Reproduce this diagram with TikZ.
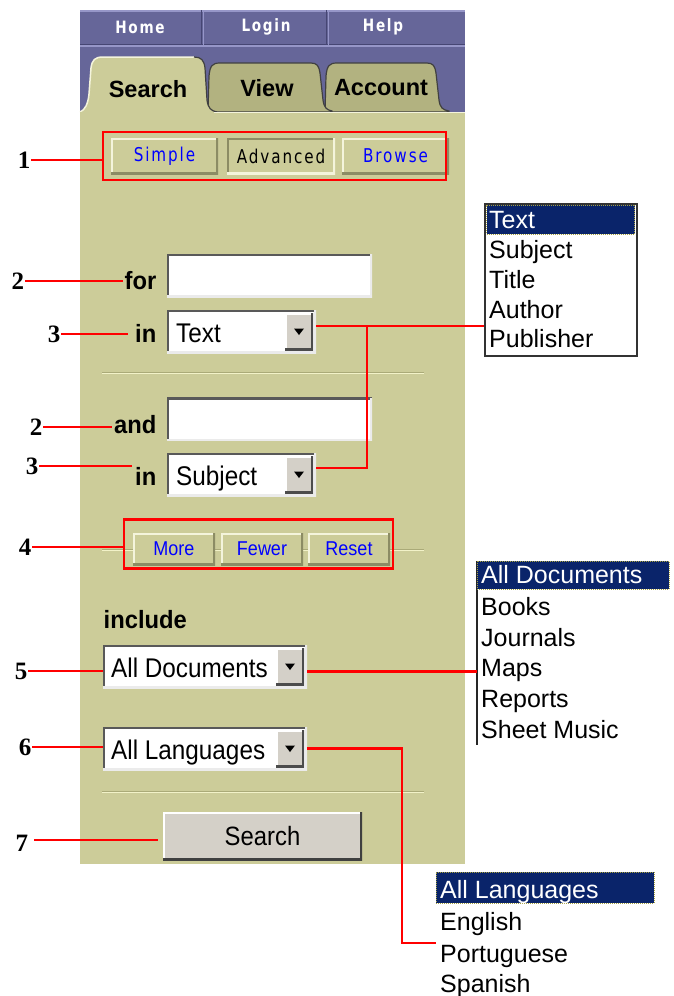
\documentclass[tikz,border=0pt]{standalone}
\usepackage{fontspec}
\setmainfont{Liberation Sans}
\newfontfamily\ddfont[FakeStretch=0.9]{Liberation Sans}
\newfontfamily\lblfont[FakeStretch=0.95]{Liberation Sans}
\newfontfamily\numfont{Liberation Serif}
\newfontfamily\pixfont[FakeStretch=0.8,LetterSpace=10]{DejaVu Sans}
\definecolor{navpurple}{RGB}{102,102,153}
\definecolor{navlight}{RGB}{150,150,200}
\definecolor{navdark}{RGB}{70,70,115}
\definecolor{khaki}{RGB}{204,204,153}
\definecolor{khlight}{RGB}{244,244,220}
\definecolor{khdark}{RGB}{140,140,100}
\definecolor{tabdark}{RGB}{178,178,128}
\definecolor{navy}{RGB}{10,36,106}
\definecolor{btngray}{RGB}{212,208,200}
\definecolor{linkblue}{RGB}{0,0,255}
\definecolor{seplight}{RGB}{242,242,200}
\definecolor{sepdark}{RGB}{170,170,120}
\tikzset{
  bevel/.style 2 args={path picture={
    \draw[#1,line width=4] (path picture bounding box.south west) -- (path picture bounding box.north west) -- (path picture bounding box.north east);
    \draw[#2,line width=4] (path picture bounding box.north east) -- (path picture bounding box.south east) -- (path picture bounding box.south west);}},
  navtext/.style={text=white,inner sep=0,font=\pixfont\bfseries\fontsize{17}{17}\selectfont},
  tabtext/.style={inner sep=0,font=\bfseries\fontsize{23.5}{23.5}\selectfont},
  khbtn/.style={fill=khaki,inner sep=0,minimum height=36,bevel={khlight}{khdark}},
  khbtnin/.style={fill=khaki,inner sep=0,minimum height=36,bevel={khdark}{khlight}},
  pixbtn/.style={font=\pixfont\fontsize{19}{19}\selectfont},
  smallbtn/.style={fill=khaki,inner sep=0,minimum height=32,text=linkblue,font=\ddfont\fontsize{20}{20}\selectfont,bevel={khlight}{khdark}},
  redbox/.style={draw=red,line width=2.5,inner sep=0},
  conn/.style={draw=red,line width=2.2},
  numlbl/.style={inner sep=1,font=\numfont\bfseries\fontsize{25}{25}\selectfont},
  fieldlbl/.style={inner sep=1.5,font=\lblfont\bfseries\fontsize{25}{25}\selectfont},
  field/.style={fill=white,inner sep=0,bevel={black!65}{black!8}},
  ddtext/.style={inner sep=0,font=\ddfont\fontsize{27}{27}\selectfont},
  arrowbtn/.style={fill=btngray,inner sep=0,minimum width=28,minimum height=37,bevel={white}{black!70}},
  listtext/.style={inner sep=0,font=\fontsize{25}{25}\selectfont},
  hilite/.style={fill=navy,draw=yellow!60!black,densely dotted,line width=1,inner sep=0},
}
\begin{document}
\begin{tikzpicture}[x=1pt,y=-1pt]
\useasboundingbox[fill=white] (0,0) rectangle (674,996);
% ---------- navigation bar and tab strip
\fill[navpurple] (80,10) rectangle (465,112);
\draw[navlight,line width=1.2] (80,11) -- (465,11);
\draw[navdark,line width=1] (80,44) -- (465,44);
\draw[navlight,line width=1.2] (80,46) -- (465,46);
\draw[navdark,line width=1] (201.5,10) -- (201.5,45);
\draw[navlight,line width=1] (203,10) -- (203,45);
\draw[navdark,line width=1] (326.5,10) -- (326.5,45);
\draw[navlight,line width=1] (328,10) -- (328,45);
\node[navtext] (home) at (140,27) {Home};
\node[navtext] (login) at (266,27) {Login};
\node[navtext] (help) at (383,27) {Help};
% ---------- tabs
\filldraw[fill=tabdark,draw=black!75,line width=1.2] (325,112) -- (326,76) .. controls (327,66) and (329,63) .. (337,63) -- (427,63) .. controls (433,63) and (435,66) .. (436,73) -- (439,100) .. controls (440,108) and (443,110) .. (449,111) -- (449,112) -- cycle;
\filldraw[fill=tabdark,draw=black!75,line width=1.2] (208,112) -- (209,76) .. controls (210,66) and (212,63) .. (220,63) -- (311,63) .. controls (317,63) and (319,66) .. (320,73) -- (323,100) .. controls (324,108) and (327,110) .. (332,111) -- (332,112) -- cycle;
\fill[khaki] (80,112) .. controls (85,110) and (88,104) .. (89,94) -- (91,68) .. controls (92,60) and (95,57) .. (103,57) -- (194,57) .. controls (201,57) and (204,60) .. (205,68) -- (207,100) .. controls (208,108) and (211,111) .. (217,112) -- cycle;
\draw[khlight,line width=1.5] (80,112) .. controls (85,110) and (88,104) .. (89,94) -- (91,68) .. controls (92,60) and (95,57) .. (103,57) -- (194,57);
\draw[black!75,line width=1.2] (194,57) .. controls (201,57) and (204,60) .. (205,68) -- (207,100) .. controls (208,108) and (211,111) .. (217,112);
\node[tabtext] (tsearch) at (148,89) {Search};
\node[tabtext] (tview) at (267,88) {View};
\node[tabtext] (taccount) at (381,88) {Account};
% ---------- panel
\fill[khaki] (80,112) rectangle (465,864);
\draw[khlight,line width=1.5] (214,112.5) -- (465,112.5);
% ---------- mode buttons
\node[khbtn,minimum width=107] (simple) at (164.5,156) {};
\node[pixbtn,text=linkblue] (simplet) at (simple.center) {Simple};
\node[khbtnin,minimum width=108] (advanced) at (281,156) {};
\node[pixbtn,text=black] (advancedt) at (advanced.center) {Advanced};
\node[khbtn,minimum width=107] (browse) at (395.5,156) {};
\node[pixbtn,text=linkblue] (browset) at (browse.center) {Browse};
\node[redbox,minimum width=343,minimum height=48] (box1) at (274.5,156) {};
\node[numlbl] (n1) at (24,160) {1};
\draw[conn] (n1.east) -- (n1.east -| box1.west);
% ---------- first search row
\node[field,minimum width=205,minimum height=43] (f1) at (269.5,275.5) {};
\node[fieldlbl,anchor=base east] (for) at (158,289) {for};
\node[numlbl] (n2a) at (18,281) {2};
\draw[conn] (n2a.east) -- (n2a.east -| for.west);
\node[field,minimum width=149,minimum height=43] (dd1) at (241.5,331.5) {};
\node[ddtext,anchor=base west] (dd1t) at (176,342) {Text};
\node[arrowbtn,anchor=north east] (dd1b) at ([xshift=-3,yshift=-3]dd1.north east) {};
\fill ([shift={(-5,-3)}]dd1b.center) -- ++(10,0) -- ++(-5,6.5) -- cycle;
\node[fieldlbl,anchor=base east] (in1) at (158,342) {in};
\node[numlbl] (n3a) at (54,334) {3};
\draw[conn] (n3a.east) -- ([xshift=-5]n3a.east -| in1.west);
% ---------- separator
\draw[sepdark,line width=1] (102,372) -- (424,372);
\draw[seplight,line width=1.2] (102,373.5) -- (424,373.5);
% ---------- second search row
\node[field,minimum width=205,minimum height=43] (f2) at (269.5,419) {};
\node[fieldlbl,anchor=base east] (and) at (158,433) {and};
\node[numlbl] (n2b) at (36,427) {2};
\draw[conn] (n2b.east) -- (n2b.east -| and.west);
\node[field,minimum width=149,minimum height=43] (dd2) at (241.5,474.5) {};
\node[ddtext,anchor=base west] (dd2t) at (176,485) {Subject};
\node[arrowbtn,anchor=north east] (dd2b) at ([xshift=-3,yshift=-3]dd2.north east) {};
\fill ([shift={(-5,-3)}]dd2b.center) -- ++(10,0) -- ++(-5,6.5) -- cycle;
\node[fieldlbl,anchor=base east] (in2) at (158,485) {in};
\node[numlbl] (n3b) at (32,466) {3};
\draw[conn] (n3b.east) -- ([xshift=-1]n3b.east -| in2.west);
% ---------- field list popup
\node[fill=white,draw=black!80,line width=2,inner sep=0,minimum width=152,minimum height=152] (list1) at (561,279.5) {};
\node[hilite,minimum width=148,minimum height=29,anchor=north west] (hl1) at ([xshift=2,yshift=-2]list1.north west) {};
\node[listtext,anchor=base west,text=white] (l1a) at (489,228) {Text};
\node[listtext,anchor=base west] (l1b) at (489,258) {Subject};
\node[listtext,anchor=base west] (l1c) at (489,288) {Title};
\node[listtext,anchor=base west] (l1d) at (489,318) {Author};
\node[listtext,anchor=base west] (l1e) at (489,347) {Publisher};
\coordinate (j1) at (367,0);
\draw[conn] ([yshift=5.5]dd1.east) coordinate (a1) -- (a1 -| list1.west);
\draw[conn] (a1 -| j1) |- ([yshift=6.5]dd2.east);
% ---------- more / fewer / reset
\draw[sepdark,line width=1] (102,549) -- (424,549);
\draw[seplight,line width=1.2] (102,550.5) -- (424,550.5);
\node[smallbtn,minimum width=82] (more) at (174,549) {More};
\node[smallbtn,minimum width=82] (fewer) at (262,549) {Fewer};
\node[smallbtn,minimum width=82] (reset) at (349,549) {Reset};
\node[redbox,minimum width=269,minimum height=49] (box4) at (258.5,544) {};
\node[numlbl] (n4) at (25,547) {4};
\draw[conn] (n4.east) -- (n4.east -| box4.west);
% ---------- include
\node[fieldlbl,anchor=base west] (include) at (102,628) {include};
\node[field,minimum width=204,minimum height=43] (dd3) at (205,666.5) {};
\node[ddtext,anchor=base west] (dd3t) at (111,677) {All Documents};
\node[arrowbtn,anchor=north east] (dd3b) at ([xshift=-3,yshift=-3]dd3.north east) {};
\fill ([shift={(-5,-3)}]dd3b.center) -- ++(10,0) -- ++(-5,6.5) -- cycle;
\node[numlbl] (n5) at (21,671) {5};
\draw[conn] (n5.east) -- (n5.east -| dd3.west);
% ---------- document list popup
\node[inner sep=0,minimum width=193,minimum height=184] (list2) at (573.5,653) {};
\draw[black!85,line width=2] (list2.north west) -- (list2.south west);
\node[hilite,minimum width=192,minimum height=28,anchor=north west] (hl2) at (list2.north west) {};
\node[listtext,anchor=base west,text=white] (l2a) at (481,583) {All Documents};
\node[listtext,anchor=base west] (l2b) at (481,615) {Books};
\node[listtext,anchor=base west] (l2c) at (481,646) {Journals};
\node[listtext,anchor=base west] (l2d) at (481,676) {Maps};
\node[listtext,anchor=base west] (l2e) at (481,707) {Reports};
\node[listtext,anchor=base west] (l2f) at (481,738) {Sheet Music};
\draw[conn] ([yshift=-5]dd3.east) coordinate (a3) -- (a3 -| list2.west);
% ---------- languages
\node[field,minimum width=204,minimum height=43] (dd4) at (205,748.5) {};
\node[ddtext,anchor=base west] (dd4t) at (111,759) {All Languages};
\node[arrowbtn,anchor=north east] (dd4b) at ([xshift=-3,yshift=-3]dd4.north east) {};
\fill ([shift={(-5,-3)}]dd4b.center) -- ++(10,0) -- ++(-5,6.5) -- cycle;
\node[numlbl] (n6) at (25,747) {6};
\draw[conn] (n6.east) -- (n6.east -| dd4.west);
% ---------- separator
\draw[sepdark,line width=1] (102,791) -- (424,791);
\draw[seplight,line width=1.2] (102,792.5) -- (424,792.5);
% ---------- search button
\node[fill=btngray,inner sep=0,minimum width=199,minimum height=48,bevel={white}{black!75},font=\ddfont\fontsize{26.5}{26.5}\selectfont] (sbtn) at (262.5,836) {Search};
\node[numlbl] (n7) at (22,843) {7};
\draw[conn] ([xshift=5,yshift=3]n7.east) -- ([xshift=-5,yshift=3]n7.east -| sbtn.west);
% ---------- language list popup
\node[inner sep=0,minimum width=218,minimum height=124] (list3) at (545,934) {};
\node[hilite,minimum width=218,minimum height=31,anchor=north west] (hl3) at (list3.north west) {};
\node[listtext,anchor=base west,text=white] (l3a) at (440,898) {All Languages};
\node[listtext,anchor=base west] (l3b) at (440,930) {English};
\node[listtext,anchor=base west] (l3c) at (440,962) {Portuguese};
\node[listtext,anchor=base west] (l3d) at (440,992) {Spanish};
\coordinate (j4) at (402,0);
\draw[conn] (dd4.east) coordinate (a4) -- (a4 -| j4) |- ([yshift=-9]list3.west);
\end{tikzpicture}
\end{document}
